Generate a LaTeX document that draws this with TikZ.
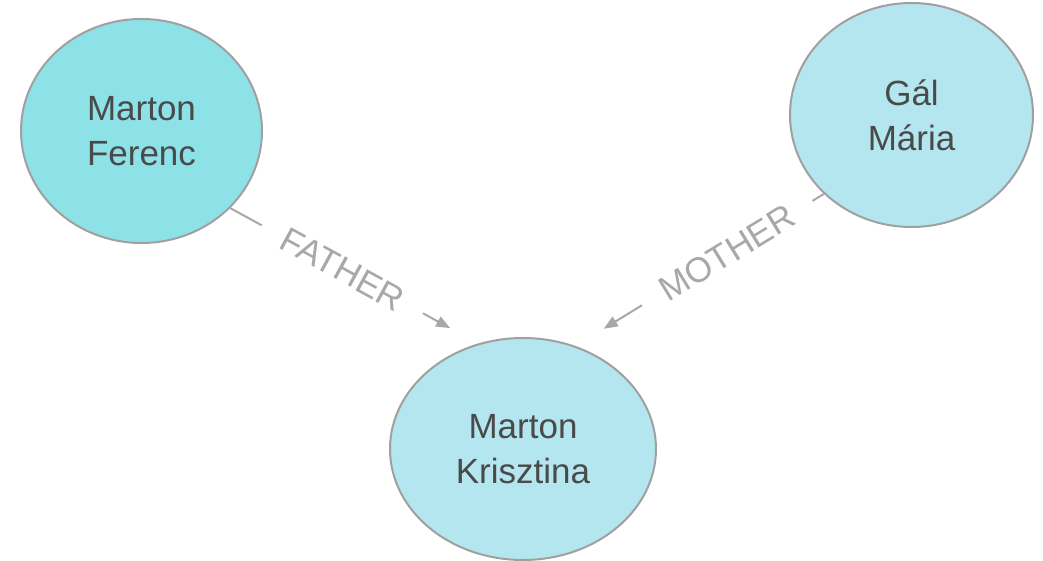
\documentclass[tikz,border=0pt]{standalone}
\usepackage{fontspec}
\setmainfont{Liberation Sans}
\usetikzlibrary{shapes.geometric,arrows.meta}
\definecolor{nodeA}{HTML}{8DE2E8}
\definecolor{nodeB}{HTML}{B4E6EF}
\definecolor{rim}{HTML}{A0A0A0}
\definecolor{relgray}{HTML}{A8A8A8}
\definecolor{txt}{HTML}{4A4A4A}
\begin{document}
\begin{tikzpicture}[x=1pt,y=1pt,
    person/.style={ellipse,draw=rim,line width=2pt,inner sep=0pt,
      align=center,text=txt,font=\fontsize{35}{45}\selectfont},
    rel/.style={draw=relgray,line width=2pt,
      -{Triangle[length=14pt,width=11pt]}},
    rellabel/.style={sloped,fill=white,text=relgray,inner xsep=24pt,
      inner ysep=1pt,font=\fontsize{35}{42}\selectfont}]
  \useasboundingbox (0,0) rectangle (1043,561);
  \node[person,fill=nodeA,minimum width=241pt,minimum height=224pt]
    (ferenc) at (141.5,430) {Marton\\Ferenc};
  \node[person,fill=nodeB,minimum width=243pt,minimum height=224pt]
    (maria) at (911.5,446) {Gál\\Mária};
  \node[person,fill=nodeB,minimum width=266pt,minimum height=222pt]
    (krisztina) at (523,112) {Marton\\Krisztina};
  \draw[rel,shorten >=32pt]
    (ferenc.-41.8)
    -- node[rellabel,pos=0.452]{FATHER} (krisztina.113);
  \draw[rel,shorten >=33pt]
    (maria.-138.2)
    -- node[rellabel,pos=0.389]{MOTHER} (krisztina.63.7);
\end{tikzpicture}
\end{document}
